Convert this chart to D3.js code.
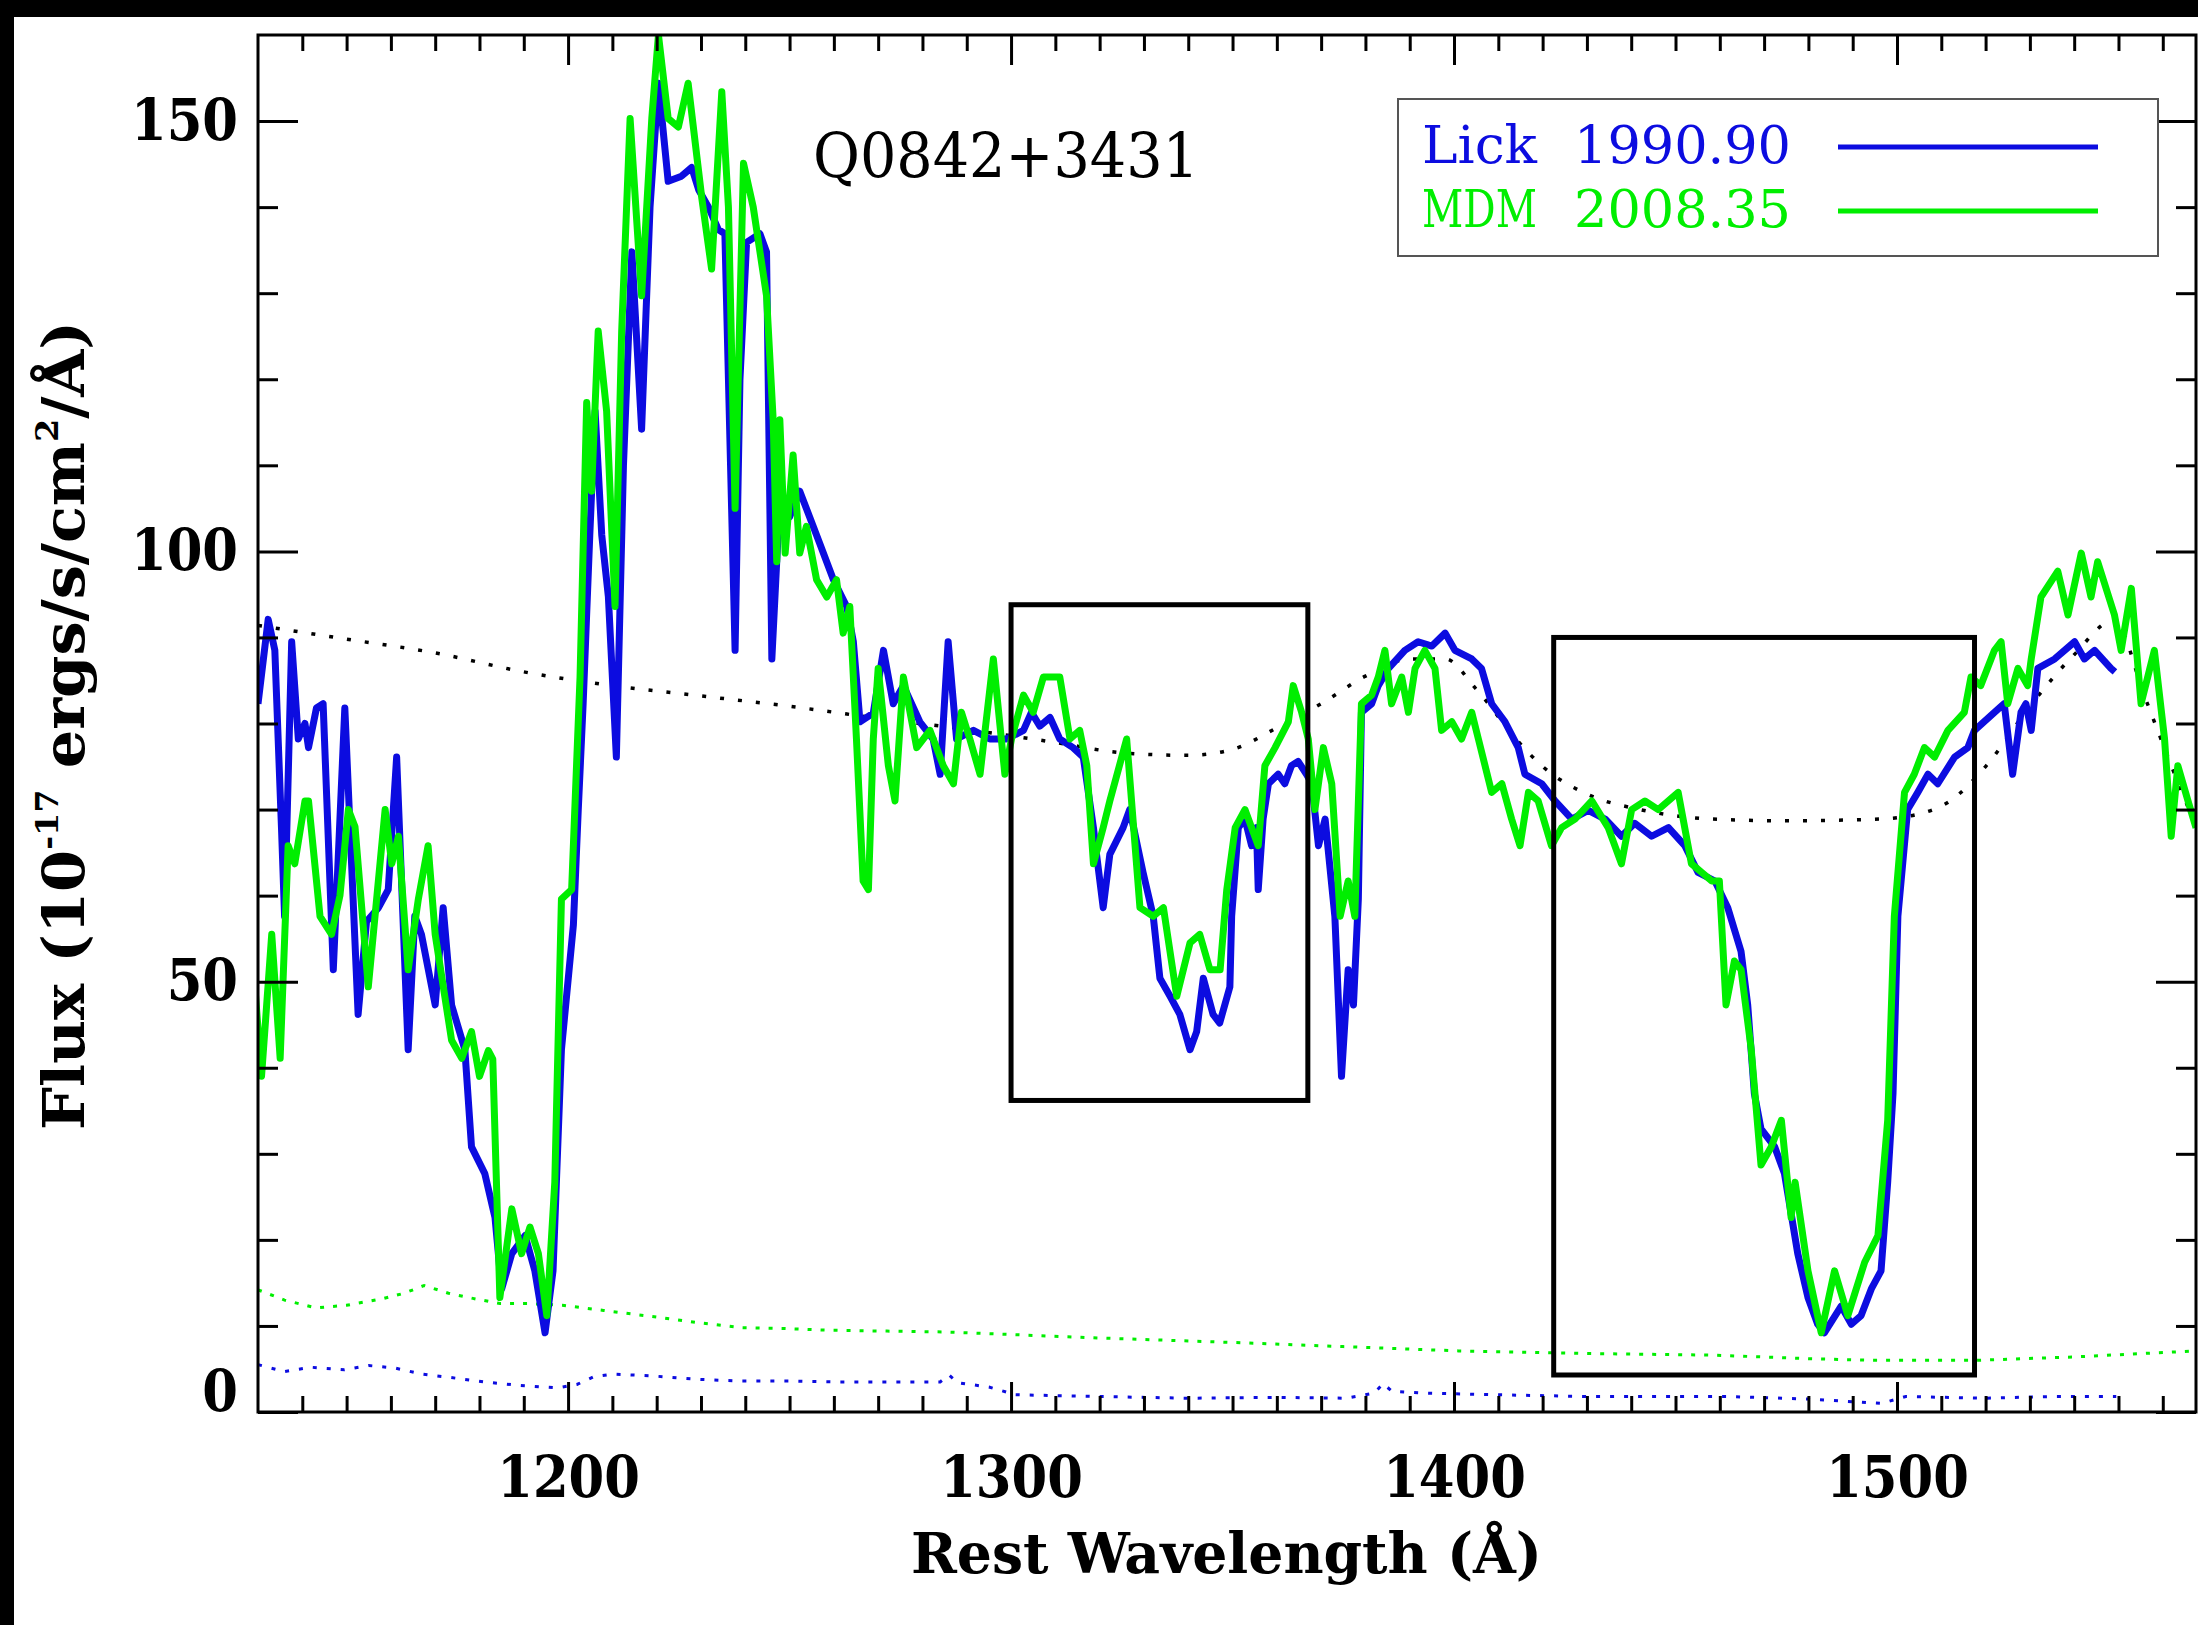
<!DOCTYPE html>
<html>
<head>
<meta charset="utf-8">
<script src="https://cdn.jsdelivr.net/npm/d3@7"></script>
<style>
  body { margin: 0; background: #000; }
  svg { display: block; }
</style>
</head>
<body>
<svg id="chart" width="2198" height="1625"></svg>
<script>
// Lick 1990.90 spectrum (blue)
let lickWave = [1130.0,1132.3,1133.8,1135.3,1136.0,1137.6,1139.1,1140.6,1141.4,1143.2,1144.7,1147.0,1149.6,1152.6,1154.5,1157.2,1159.4,1161.3,1163.9,1165.4,1166.9,1170.0,1171.8,1173.7,1176.7,1178.2,1181.2,1183.5,1185.0,1187.3,1190.3,1192.5,1194.8,1196.6,1198.5,1201.2,1202.3,1203.4,1204.9,1206.1,1207.6,1209.1,1210.9,1212.5,1214.4,1216.6,1218.5,1220.4,1222.6,1225.6,1227.9,1229.5,1231.7,1233.9,1235.4,1237.7,1238.8,1240.3,1243.3,1244.8,1246.0,1247.5,1250.0,1252.3,1256.9,1259.9,1262.9,1264.4,1265.9,1268.9,1271.2,1273.4,1275.7,1279.4,1282.4,1284.0,1285.8,1287.7,1291.5,1295.2,1299.0,1302.8,1304.6,1306.5,1308.8,1311.0,1314.0,1316.3,1318.6,1319.3,1320.8,1322.3,1325.3,1326.8,1329.8,1332.1,1333.6,1335.9,1338.1,1340.4,1341.9,1343.4,1345.6,1347.1,1349.4,1349.8,1351.3,1352.8,1354.3,1355.4,1355.8,1356.9,1358.1,1360.3,1361.8,1363.3,1364.8,1366.7,1367.9,1369.4,1370.9,1373.1,1374.6,1376.1,1377.3,1378.4,1379.1,1381.4,1382.9,1385.2,1388.9,1391.9,1395.0,1398.0,1400.2,1404.0,1406.2,1408.5,1411.5,1414.5,1416.0,1419.8,1422.8,1426.6,1430.3,1434.1,1437.8,1440.8,1444.6,1448.4,1452.1,1455.1,1458.9,1461.8,1464.8,1466.3,1467.8,1469.3,1472.4,1474.6,1477.6,1479.9,1482.1,1483.6,1487.4,1489.7,1491.9,1494.2,1496.4,1497.9,1499.1,1500.2,1502.4,1504.7,1507.0,1509.2,1513.0,1516.0,1517.5,1522.0,1524.2,1526.1,1528.0,1529.1,1530.3,1531.8,1535.6,1540.1,1542.3,1544.6,1548.3,1549.2];
let lickFlux = [82.3,92.1,88.5,67.9,57.6,89.5,78.2,80.0,77.2,81.8,82.3,51.4,81.8,46.2,57.0,58.6,60.7,76.1,42.1,57.6,55.5,47.3,58.6,47.3,42.1,30.8,27.7,22.6,14.3,18.4,20.5,16.4,9.2,16.4,42.1,56.6,70.0,82.3,101.9,116.3,101.9,94.7,76.1,110.0,134.8,114.2,140.0,154.4,143.0,143.6,144.6,142.0,140.0,137.4,136.9,88.5,120.0,135.9,136.9,134.8,87.5,102.9,104.0,107.0,100.8,96.7,93.6,89.5,80.2,81.2,88.5,82.3,84.4,80.2,78.2,74.1,89.5,78.2,79.2,78.2,78.2,79.2,81.3,79.7,80.7,78.2,77.2,76.1,67.9,64.8,58.6,64.8,67.9,70.0,62.7,57.6,50.4,48.3,46.2,42.1,44.2,50.4,46.2,45.2,49.4,57.6,67.9,68.9,65.8,67.9,60.7,68.9,73.0,74.1,73.0,75.1,75.6,74.1,73.0,65.8,68.9,57.6,39.0,51.4,47.3,59.6,81.3,82.3,84.4,86.4,88.5,89.5,89.0,90.5,88.5,87.5,86.4,82.3,80.2,77.2,74.1,73.0,71.0,68.9,69.9,68.9,66.9,68.4,66.9,67.9,65.8,62.7,61.7,58.6,53.5,47.3,37.0,32.9,30.8,27.7,18.4,13.3,10.2,9.2,12.3,10.2,11.2,14.3,16.4,26.7,37.0,57.6,70.0,72.0,74.1,73.0,76.1,77.2,79.2,81.3,82.3,74.1,81.3,82.3,79.2,86.4,87.5,89.5,87.5,88.5,86.4,86.0];

// MDM 2008.35 spectrum (green)
let mdmWave = [1129.3,1130.8,1133.1,1135.0,1136.8,1138.3,1140.6,1141.4,1144.0,1146.6,1148.5,1150.4,1151.9,1154.9,1158.7,1160.2,1161.7,1163.9,1166.2,1168.4,1170.0,1173.7,1176.0,1178.2,1180.0,1182.0,1183.0,1184.6,1187.3,1189.5,1191.4,1193.3,1195.2,1197.0,1198.5,1200.8,1202.7,1204.2,1205.3,1206.8,1208.7,1210.6,1212.1,1214.0,1216.6,1218.9,1220.4,1222.6,1224.9,1227.1,1230.2,1232.4,1234.7,1236.2,1237.7,1239.6,1241.8,1244.8,1246.3,1247.1,1247.8,1249.0,1250.8,1252.3,1253.8,1256.1,1258.4,1260.6,1262.1,1263.6,1265.1,1266.6,1267.8,1268.9,1270.0,1272.3,1273.8,1275.7,1278.7,1281.7,1284.7,1287.0,1288.8,1290.7,1293.0,1296.0,1298.6,1300.1,1302.8,1305.0,1307.3,1311.0,1313.3,1315.5,1317.1,1318.6,1320.8,1322.3,1326.1,1329.1,1332.1,1334.4,1337.4,1340.4,1342.6,1344.9,1347.2,1348.7,1350.6,1352.8,1355.8,1357.3,1359.6,1362.6,1363.7,1365.6,1367.1,1368.6,1370.5,1372.4,1374.3,1376.1,1377.6,1379.1,1381.4,1382.9,1384.4,1385.9,1388.2,1389.7,1391.2,1393.4,1395.7,1397.2,1399.5,1401.7,1404.0,1405.5,1408.5,1410.8,1413.0,1414.9,1416.8,1419.0,1422.0,1424.3,1427.3,1431.1,1434.8,1437.8,1440.1,1443.1,1446.1,1450.6,1453.6,1455.9,1458.2,1459.9,1461.4,1463.3,1464.8,1467.1,1469.3,1471.6,1473.9,1476.1,1477.0,1479.9,1482.9,1485.9,1488.9,1492.7,1495.7,1497.9,1499.4,1501.7,1503.9,1506.2,1508.5,1511.5,1515.2,1516.7,1518.9,1522.0,1523.5,1525.0,1527.3,1529.5,1530.3,1532.5,1536.3,1538.6,1541.6,1543.8,1545.3,1549.1,1550.6,1552.9,1555.1,1558.1,1560.4,1561.9,1563.4,1565.7,1567.5];
let mdmFlux = [49.4,39.0,55.5,41.1,65.8,63.7,71.0,71.0,57.6,55.5,60.0,70.0,68.0,49.4,70.0,63.7,66.9,51.4,59.6,65.8,55.5,43.2,41.1,44.2,39.0,42.0,41.0,13.3,23.6,18.4,21.5,18.4,11.2,26.7,59.6,60.7,85.4,117.3,107.0,125.6,116.3,93.6,125.6,150.3,129.7,150.3,160.0,150.3,149.3,154.4,141.0,132.8,153.4,140.0,105.0,145.1,140.0,129.7,115.3,98.8,115.3,99.8,111.2,99.8,102.9,96.7,94.7,96.7,90.5,93.6,78.2,61.7,60.7,78.2,86.4,75.1,71.0,85.4,77.2,79.2,75.1,73.0,81.3,78.2,74.1,87.5,74.1,78.2,83.3,81.3,85.4,85.4,78.2,79.2,75.1,63.7,67.9,71.0,78.2,58.6,57.6,58.6,48.3,54.5,55.5,51.4,51.4,60.7,67.9,70.0,65.8,75.1,77.2,80.2,84.4,81.3,78.2,70.0,77.2,73.0,57.6,61.7,57.6,82.3,83.3,85.4,88.5,82.3,85.4,81.3,86.4,88.5,86.4,79.2,80.2,78.2,81.3,78.2,72.0,73.0,68.9,65.8,72.0,71.0,65.8,67.9,68.9,71.0,67.9,63.7,70.0,71.0,70.0,72.0,63.7,62.7,61.7,61.7,47.3,52.4,51.4,42.1,28.7,30.8,33.9,22.6,26.7,16.4,9.2,16.4,11.2,17.4,20.5,33.9,57.6,72.0,74.1,77.2,76.1,79.2,81.3,85.4,84.4,88.5,89.5,82.3,86.4,84.4,87.5,94.7,97.7,92.6,99.8,94.7,98.8,92.6,88.5,95.7,82.3,88.5,78.2,66.9,75.1,71.0,67.9];

// continuum fit (black dotted)
let contWave = [1130,1150,1170,1190,1210,1230,1250,1270,1290,1310,1325,1340,1350,1360,1370,1380,1390,1398,1405,1414,1420,1430,1442,1458,1475,1496,1505,1512,1520,1530,1540,1549,1556,1562,1567.5];
let contFlux = [91.4,89.8,88.2,86.0,84.4,83.2,82.0,80.6,79.3,77.8,76.6,76.3,77.0,79.5,82.3,85.5,87.5,87.5,84.0,78.2,75.0,71.8,70.0,68.9,68.7,68.9,69.5,71.0,75.0,82.0,88.0,92.0,83.0,75.0,68.0];

// error spectra (dotted)
let mdmErrWave = [1130,1136,1143,1150,1158.4,1163,1167.5,1173,1178.5,1184.6,1191,1198.7,1208,1218.9,1229,1239,1249,1259,1272,1285.3,1300,1320,1349,1375,1401,1430,1459,1480,1495,1517.6,1540,1567.5];
let mdmErr = [14.2,13.0,12.1,12.4,13.2,13.8,14.7,13.8,13.2,12.6,12.6,12.4,11.8,11.1,10.4,9.8,9.7,9.5,9.4,9.3,9.0,8.6,8.1,7.6,7.1,6.8,6.6,6.2,6.0,6.0,6.4,7.1];
let lickErrWave = [1130,1136,1142,1149.5,1155,1161,1167,1173.6,1181,1188.7,1197.7,1202,1205.8,1210,1218.9,1229,1239,1250,1260.7,1272,1284,1286,1288,1295,1301,1320,1340,1360,1375.7,1382,1384,1386,1393,1410,1430,1462,1480,1496.5,1502,1520,1535,1549.5];
let lickErr = [5.5,4.7,5.2,4.9,5.4,5.1,4.4,4.0,3.5,3.1,2.8,3.2,4.1,4.4,4.2,3.8,3.6,3.6,3.5,3.5,3.5,4.3,3.4,2.9,2.0,1.8,1.6,1.7,1.6,2.2,3.3,2.4,2.2,2.0,1.8,1.8,1.5,1.0,1.8,1.6,1.8,1.8];

// absorption trough boxes
let boxWaveLo = [1300, 1422.5];
let boxWaveHi = [1367, 1517.5];
let boxFluxLo = [36.2, 4.3];
let boxFluxHi = [93.8, 90];

// ticks
let xMajor = [1200, 1300, 1400, 1500];
let xMinor = d3.range(1140, 1561, 10).filter(d => d % 100 !== 0);
let yMajor = [0, 50, 100, 150];
let yMinor = d3.range(10, 160, 10).filter(d => d % 50 !== 0);

let legendNames = ["Lick", "MDM"];
let legendDates = ["1990.90", "2008.35"];
let blue = "#0c0ce0";
let green = "#00ee00";
let legendColors = [blue, green];

let svg = d3.select("#chart");
let serif = "'DejaVu Serif Condensed', 'DejaVu Serif', serif";

svg.append("rect").attr("width", 2198).attr("height", 1625).attr("fill", "#000");
svg.append("rect").attr("x", 14).attr("y", 17).attr("width", 2184).attr("height", 1608).attr("fill", "#fff");

let plotLeft = 258, plotRight = 2196, plotTop = 35, plotBottom = 1412;
let x = d3.scaleLinear().domain([1130, 1567.5]).range([plotLeft, plotRight]);
let y = d3.scaleLinear().domain([0, 160]).range([plotBottom, plotTop]);

svg.append("clipPath").attr("id", "plotclip")
   .append("rect").attr("x", plotLeft).attr("y", plotTop).attr("width", plotRight - plotLeft).attr("height", plotBottom - plotTop);

let plot = svg.append("g").attr("clip-path", "url(#plotclip)");

let line = d3.line().x(d => x(d[0])).y(d => y(d[1]));
let zip = (a, b) => a.map((v, i) => [v, b[i]]);

// error spectra
plot.append("path").attr("d", line(zip(mdmErrWave, mdmErr)))
    .attr("fill", "none").attr("stroke", green).attr("stroke-width", 3).attr("stroke-dasharray", "4,9");
plot.append("path").attr("d", line(zip(lickErrWave, lickErr)))
    .attr("fill", "none").attr("stroke", blue).attr("stroke-width", 3).attr("stroke-dasharray", "4,10");

// continuum
plot.append("path").attr("d", d3.line().curve(d3.curveMonotoneX).x(d => x(d[0])).y(d => y(d[1]))(zip(contWave, contFlux)))
    .attr("fill", "none").attr("stroke", "#000").attr("stroke-width", 3.5).attr("stroke-dasharray", "4,14");

// spectra
plot.append("path").attr("d", line(zip(lickWave, lickFlux)))
    .attr("fill", "none").attr("stroke", blue).attr("stroke-width", 7).attr("stroke-linejoin", "round");
plot.append("path").attr("d", line(zip(mdmWave, mdmFlux)))
    .attr("fill", "none").attr("stroke", green).attr("stroke-width", 7).attr("stroke-linejoin", "round");

// boxes
svg.selectAll(".box").data(boxWaveLo).enter().append("rect")
   .attr("class", "box")
   .attr("x", (d, i) => x(boxWaveLo[i]))
   .attr("y", (d, i) => y(boxFluxHi[i]))
   .attr("width", (d, i) => x(boxWaveHi[i]) - x(boxWaveLo[i]))
   .attr("height", (d, i) => y(boxFluxLo[i]) - y(boxFluxHi[i]))
   .attr("fill", "none").attr("stroke", "#000").attr("stroke-width", 5);

// axes
let styleAxis = g => {
  g.select(".domain").remove();
  g.selectAll(".tick line").attr("stroke", "#000").attr("stroke-width", 3);
  g.selectAll("text").attr("font-family", serif).attr("font-weight", "bold")
   .attr("font-size", 57).attr("fill", "#000").style("font-stretch", "condensed");
};

svg.append("g").attr("transform", `translate(0,${plotBottom})`)
   .call(d3.axisBottom(x).tickValues(xMinor).tickSize(-16).tickFormat("")).call(styleAxis);
svg.append("g").attr("transform", `translate(0,${plotBottom})`)
   .call(d3.axisBottom(x).tickValues(xMajor).tickSize(-30).tickPadding(45).tickFormat(d3.format("d"))).call(styleAxis);
svg.append("g").attr("transform", `translate(0,${plotTop})`)
   .call(d3.axisTop(x).tickValues(xMinor).tickSize(-16).tickFormat("")).call(styleAxis);
svg.append("g").attr("transform", `translate(0,${plotTop})`)
   .call(d3.axisTop(x).tickValues(xMajor).tickSize(-30).tickFormat("")).call(styleAxis);

svg.append("g").attr("transform", `translate(${plotLeft},0)`)
   .call(d3.axisLeft(y).tickValues(yMinor).tickSize(-20).tickFormat("")).call(styleAxis);
let yAxisG = svg.append("g").attr("transform", `translate(${plotLeft},0)`)
   .call(d3.axisLeft(y).tickValues(yMajor).tickSize(-40).tickPadding(20).tickFormat(d3.format("d"))).call(styleAxis);
yAxisG.selectAll(".tick").filter(d => d === 0).select("text").attr("y", -20);
svg.append("g").attr("transform", `translate(${plotRight},0)`)
   .call(d3.axisRight(y).tickValues(yMinor).tickSize(-20).tickFormat("")).call(styleAxis);
svg.append("g").attr("transform", `translate(${plotRight},0)`)
   .call(d3.axisRight(y).tickValues(yMajor).tickSize(-40).tickFormat("")).call(styleAxis);

// frame
svg.append("rect").attr("x", plotLeft).attr("y", plotTop).attr("width", plotRight - plotLeft).attr("height", plotBottom - plotTop)
   .attr("fill", "none").attr("stroke", "#000").attr("stroke-width", 3);

// title
svg.append("text").attr("x", 813).attr("y", 177).attr("font-family", serif)
   .attr("font-size", 62).attr("textLength", 386).attr("lengthAdjust", "spacingAndGlyphs")
   .text("Q0842+3431");

// legend
svg.append("rect").attr("x", 1398).attr("y", 99).attr("width", 760).attr("height", 157)
   .attr("fill", "#fff").attr("stroke", "#555").attr("stroke-width", 2);
let legendRows = [163, 227];
legendNames.forEach((name, i) => {
  svg.append("text").attr("x", 1422).attr("y", legendRows[i]).attr("font-family", serif)
     .attr("font-size", 52).attr("fill", legendColors[i])
     .attr("textLength", 115).attr("lengthAdjust", "spacingAndGlyphs").text(name);
  svg.append("text").attr("x", 1574).attr("y", legendRows[i]).attr("font-family", serif)
     .attr("font-size", 52).attr("fill", legendColors[i])
     .attr("textLength", 217).attr("lengthAdjust", "spacingAndGlyphs").text(legendDates[i]);
  svg.append("line").attr("x1", 1838).attr("x2", 2098)
     .attr("y1", legendRows[i] - 16).attr("y2", legendRows[i] - 16)
     .attr("stroke", legendColors[i]).attr("stroke-width", 5);
});

// axis titles
svg.append("text").attr("x", 911).attr("y", 1573).attr("font-family", serif).attr("font-weight", "bold")
   .attr("font-size", 56).style("font-stretch", "condensed")
   .attr("textLength", 631).attr("lengthAdjust", "spacingAndGlyphs")
   .text("Rest Wavelength (Å)");

let yTitle = svg.append("text").attr("transform", "translate(84,1130) rotate(-90)")
   .attr("font-family", serif).attr("font-weight", "bold").attr("font-size", 58).style("font-stretch", "condensed")
   .attr("textLength", 809).attr("lengthAdjust", "spacingAndGlyphs");
yTitle.append("tspan").text("Flux (10");
yTitle.append("tspan").attr("font-size", 32).attr("dy", -26).text("-17");
yTitle.append("tspan").attr("dy", 26).text(" ergs/s/cm");
yTitle.append("tspan").attr("font-size", 32).attr("dy", -26).text("2");
yTitle.append("tspan").attr("dy", 26).text("/Å)");
</script>
</body>
</html>
